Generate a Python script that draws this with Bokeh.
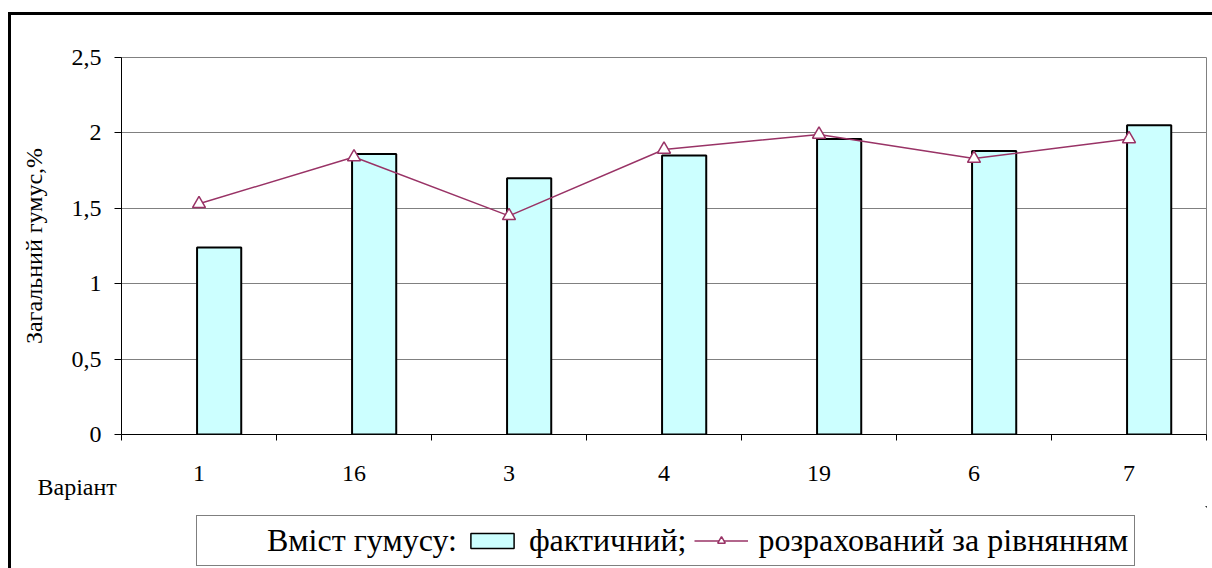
from bokeh.plotting import figure
from bokeh.layouts import column
from bokeh.models import (Range1d, FixedTicker, Legend, LegendItem, Title,
                          CustomJSTickFormatter)
from bokeh.embed import file_html
from bokeh.resources import INLINE

# ---- data ----
variants = ["1", "16", "3", "4", "19", "6", "7"]
actual = [1.24, 1.86, 1.70, 1.85, 1.96, 1.88, 2.05]          # фактичний
calculated = [1.53, 1.84, 1.45, 1.89, 1.99, 1.83, 1.96]      # розрахований за рівнянням
y_ticks = [0, 0.5, 1, 1.5, 2, 2.5]
y_tick_labels = ["0", "0,5", "1", "1,5", "2", "2,5"]
y_title = "Загальний гумус,%"
x_caption = "Варіант"
legend_title = "Вміст гумусу:"
series_names = ["фактичний;", "розрахований за рівнянням"]

FONT = "Liberation Serif"
BAR_FILL = "#CCFFFF"
LINE_COL = "#993366"
n = len(variants)
centers = [i + 0.5 for i in range(n)]
bar_x = [c + 0.13 for c in centers]

# ---------------- main chart ----------------
p = figure(width=1201, height=491,
           x_range=Range1d(0, n), y_range=Range1d(0, 2.5),
           output_backend="svg", toolbar_location=None,
           min_border_left=110, min_border_right=6,
           min_border_top=42, min_border_bottom=72)
p.background_fill_color = "white"
p.border_fill_color = "white"
p.outline_line_color = "#808080"
p.outline_line_width = 1

p.xgrid.grid_line_color = None
p.ygrid.grid_line_color = "#808080"
p.ygrid.grid_line_width = 1

# y axis
p.yaxis.ticker = FixedTicker(ticks=y_ticks)
p.yaxis.formatter = CustomJSTickFormatter(
    args=dict(yt=y_ticks, yl=y_tick_labels),
    code="""
    for (let i = 0; i < yt.length; i++) {
        if (Math.abs(yt[i] - tick) < 1e-9) return yl[i];
    }
    return String(tick);
    """)
p.yaxis.axis_line_color = "black"
p.yaxis.major_tick_line_color = "black"
p.yaxis.major_tick_out = 7
p.yaxis.major_tick_in = 0
p.yaxis.minor_tick_line_color = None
p.yaxis.major_label_text_font = FONT
p.yaxis.major_label_text_font_size = "24px"
p.yaxis.major_label_text_color = "black"
p.yaxis.major_label_standoff = 13
p.yaxis.axis_label = y_title
p.yaxis.axis_label_text_font = FONT
p.yaxis.axis_label_text_font_size = "24px"
p.yaxis.axis_label_text_font_style = "normal"
p.yaxis.axis_label_text_color = "black"
p.yaxis.axis_label_standoff = 22

# x axis: labels at category centres, ticks at category boundaries
p.xaxis.ticker = FixedTicker(ticks=centers, minor_ticks=list(range(n + 1)))
p.xaxis.formatter = CustomJSTickFormatter(
    args=dict(vl=variants),
    code="return vl[Math.round(tick - 0.5)];")
p.xaxis.axis_line_color = "black"
p.xaxis.major_tick_line_color = None
p.xaxis.major_tick_out = 0
p.xaxis.major_tick_in = 0
p.xaxis.minor_tick_line_color = "black"
p.xaxis.minor_tick_out = 6
p.xaxis.minor_tick_in = 0
p.xaxis.major_label_text_font = FONT
p.xaxis.major_label_text_font_size = "24px"
p.xaxis.major_label_text_color = "black"
p.xaxis.major_label_standoff = 25

p.vbar(x=bar_x, top=actual, bottom=0, width=0.285,
       fill_color=BAR_FILL, line_color="black", line_width=2)
p.line(centers, calculated, line_color=LINE_COL, line_width=1.5)
p.scatter(centers, calculated, marker="triangle", size=13,
          fill_color="white", line_color=LINE_COL, line_width=1.5)

p.add_layout(Title(text=x_caption, align="left", offset=-84, standoff=-24,
                   text_font=FONT, text_font_size="24px",
                   text_font_style="normal", text_color="black"), "below")

# ---------------- legend strip ----------------
# ranges chosen so the proxy renderers (same data) stay out of view;
# only their legend swatches are shown
q = figure(width=1201, height=62, x_range=Range1d(-2, -1), y_range=Range1d(-2, -1),
           x_axis_type=None, y_axis_type=None,
           output_backend="svg", toolbar_location=None, min_border=0)
q.outline_line_color = None
q.background_fill_color = "white"
q.border_fill_color = "white"
r_title = q.scatter(x=[], y=[], marker="square", fill_alpha=0, line_alpha=0)
r_bar = q.vbar(x=bar_x, top=actual, bottom=0, width=0.285, fill_color=BAR_FILL,
               line_color="black", line_width=1.5)
r_line = q.line(centers, calculated, line_color=LINE_COL, line_width=1.5)
r_mark = q.scatter(centers, calculated, marker="triangle", size=11,
                   fill_color="white", line_color=LINE_COL, line_width=1.5)

legend = Legend(items=[
    LegendItem(label=legend_title, renderers=[r_title]),
    LegendItem(label=series_names[0], renderers=[r_bar]),
    LegendItem(label=series_names[1], renderers=[r_line, r_mark]),
], orientation="horizontal", location=(75, 2))
legend.border_line_color = "black"
legend.border_line_width = 1
legend.background_fill_color = "white"
legend.background_fill_alpha = 1
legend.label_text_font = FONT
legend.label_text_font_size = "32px"
legend.label_text_color = "black"
legend.glyph_width = 54
legend.glyph_height = 19
legend.label_standoff = 10
legend.spacing = 8
legend.padding = 6
legend.margin = 0
q.add_layout(legend)

layout = column(p, q, spacing=0)
layout.styles = {"border-left": "3px solid black", "border-top": "3px solid black",
                 "margin-top": "12px", "margin-left": "8px"}

open("out.html", "w").write(file_html(layout, INLINE))
